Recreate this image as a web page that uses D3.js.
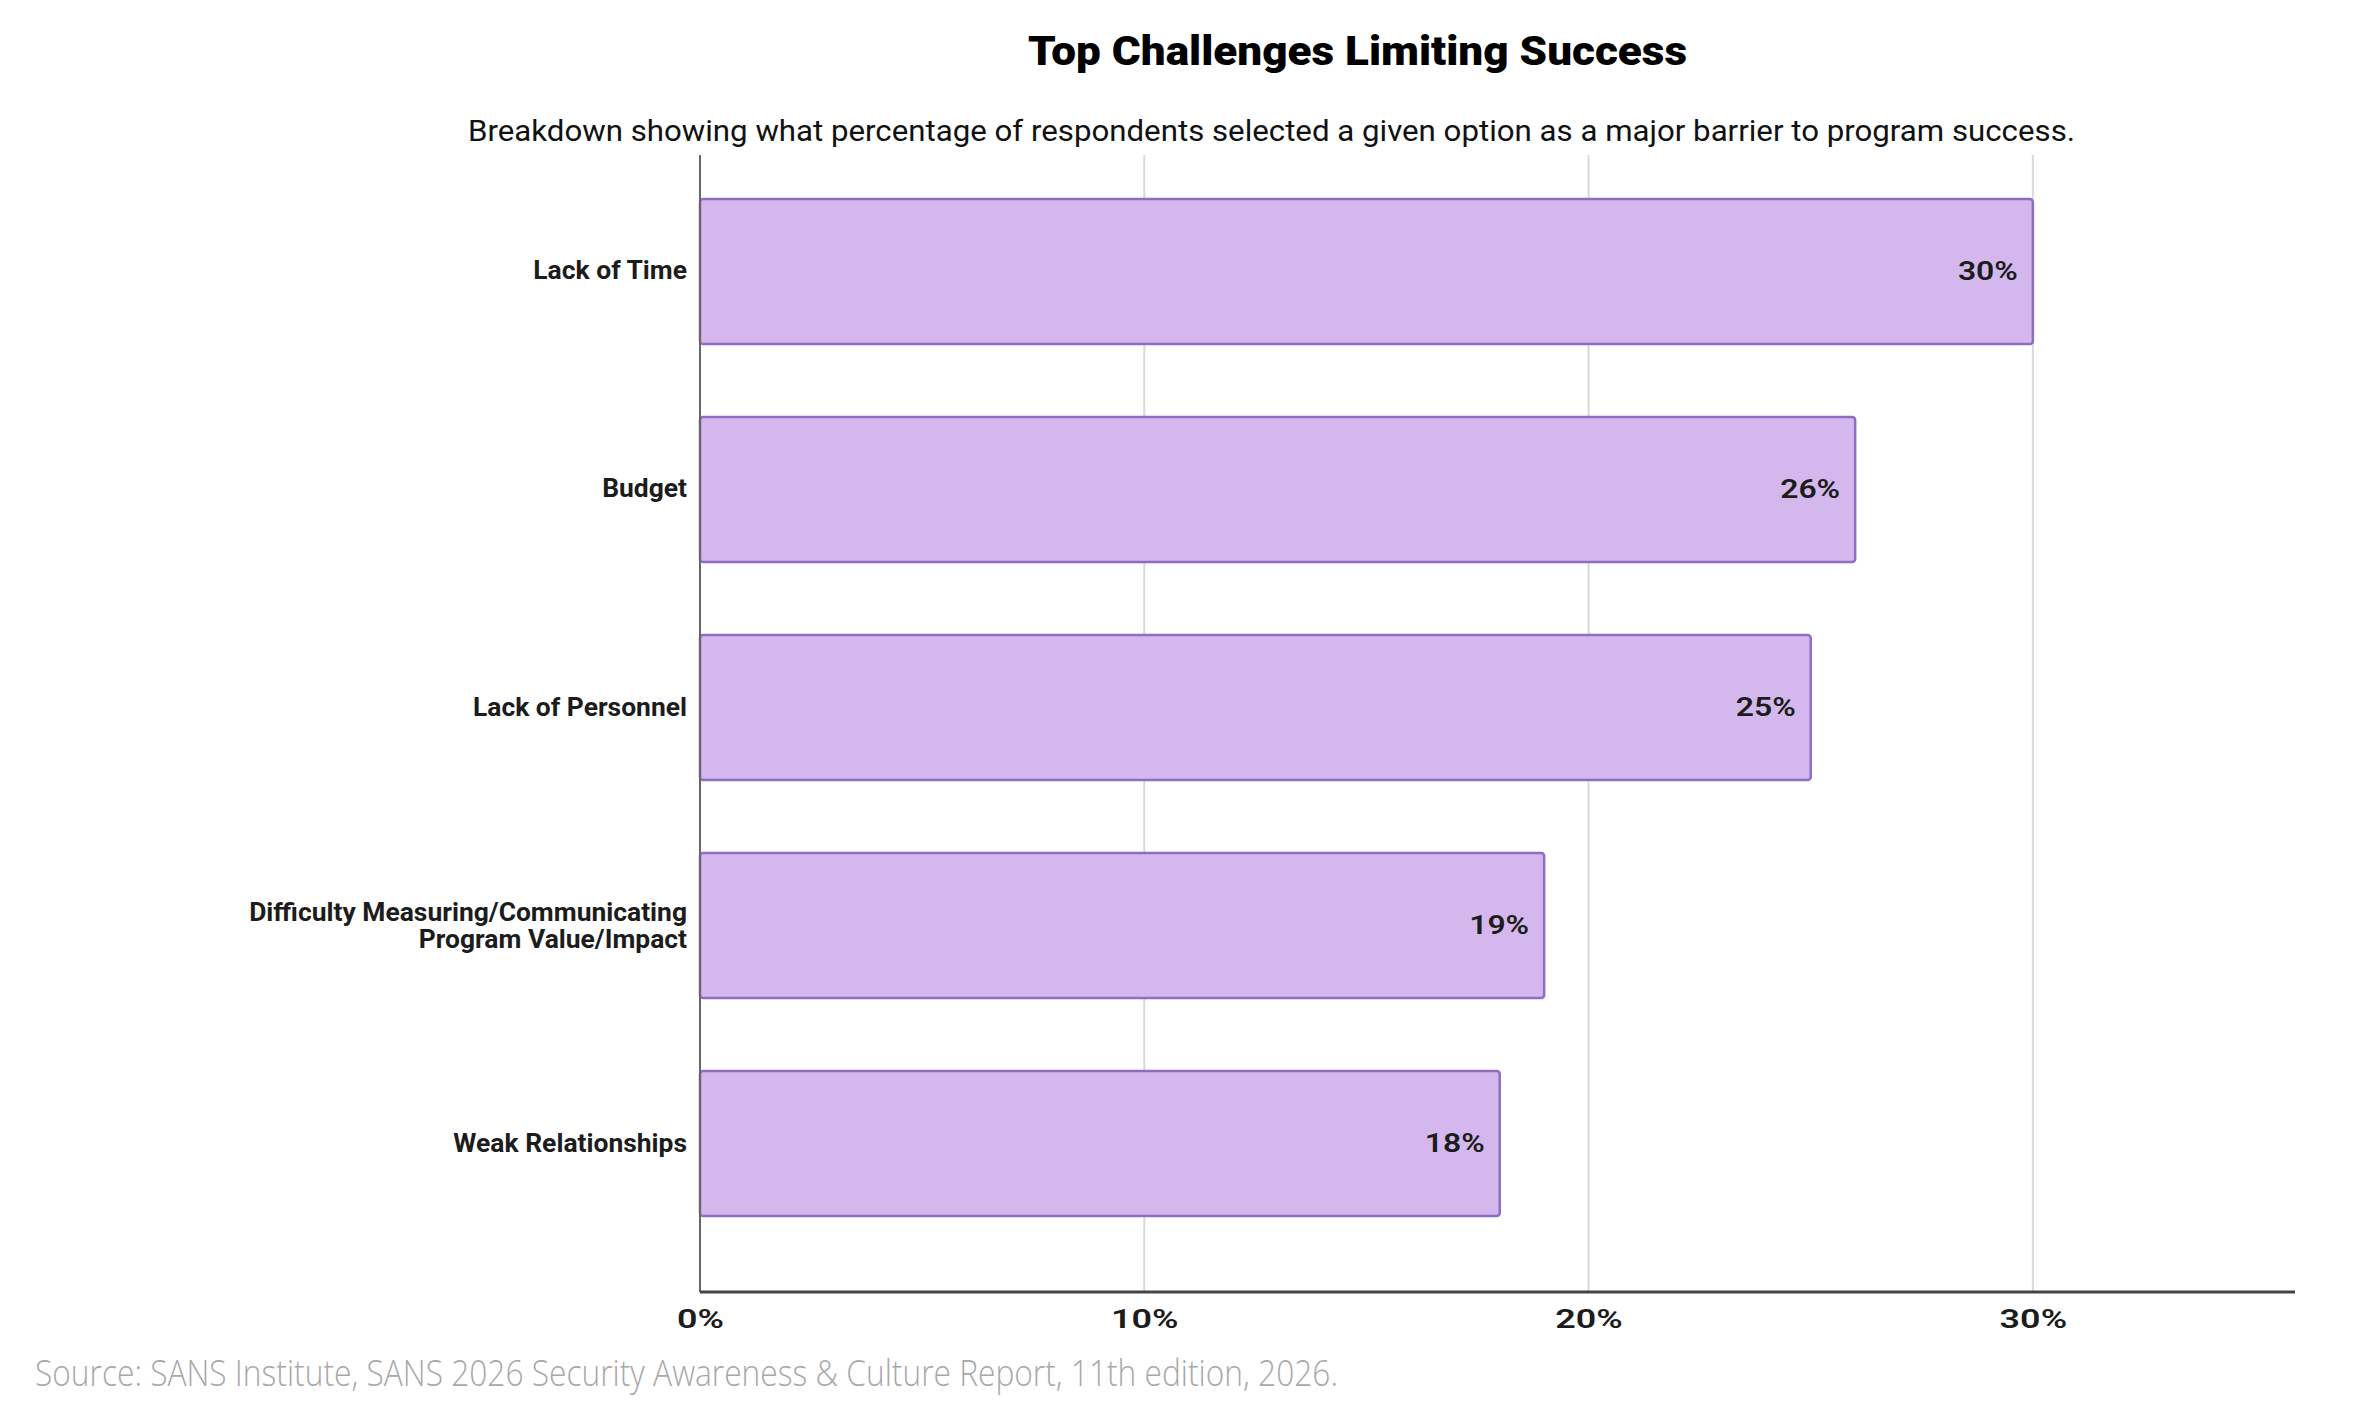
<!DOCTYPE html>
<html>
<head>
<meta charset="utf-8">
<script src="https://cdn.jsdelivr.net/npm/d3@7"></script>
<style>
  body { margin: 0; background: #fff; }
  svg { display: block; }
  .cat text, .xt text, .val { fill: #1c1c1c; font-family: Roboto, "DejaVu Sans", sans-serif; font-weight: 700; }
  .xt text, .val { font-weight: 600; }
</style>
</head>
<body>
<div id="plot"></div>
<script>
// data
var categories = [
  "Lack of Time",
  "Budget",
  "Lack of Personnel",
  "Difficulty Measuring/Communicating\nProgram Value/Impact",
  "Weak Relationships"
];
var values = [30, 26, 25, 19, 18];
var xTicks = [0, 10, 20, 30];
var xMax = 35.9;

var titleText = "Top Challenges Limiting Success";
var subtitleText = "Breakdown showing what percentage of respondents selected a given option as a major barrier to program success.";
var sourceText = "Source: SANS Institute, SANS 2026 Security Awareness & Culture Report, 11th edition, 2026.";

var W = 2366, H = 1410;
var plotLeft = 700, plotRight = 2295, plotTop = 155, plotBottom = 1292;

var svg = d3.select("#plot").append("svg")
  .attr("width", W)
  .attr("height", H);

// squash text horizontally so that it ends up at a set width
function fitWidth(sel, target) {
  sel.attr("textLength", target).attr("lengthAdjust", "spacingAndGlyphs");
}
function squeeze(sel, k) {
  sel.each(function() {
    var t = d3.select(this);
    var x = +t.attr("x") || 0;
    t.attr("transform", "scale(" + k + ",1)").attr("x", x / k);
    t.selectAll("tspan").attr("x", x / k);
  });
}

var x = d3.scaleLinear()
  .domain([0, xMax])
  .range([plotLeft, plotRight]);

var y = d3.scaleBand()
  .domain(categories)
  .range([199, 1216])
  .paddingInner(0.335)
  .paddingOuter(0);

// gridlines
svg.append("g")
  .selectAll("line")
  .data(xTicks.slice(1))
  .enter().append("line")
    .attr("x1", function(d) { return x(d); })
    .attr("x2", function(d) { return x(d); })
    .attr("y1", plotTop)
    .attr("y2", plotBottom)
    .attr("stroke", "#d9d9d9")
    .attr("stroke-width", 2);

// bars
svg.append("g")
  .selectAll("rect")
  .data(values)
  .enter().append("rect")
    .attr("x", x(0))
    .attr("y", function(d, i) { return y(categories[i]); })
    .attr("width", function(d) { return x(d) - x(0); })
    .attr("height", y.bandwidth())
    .attr("rx", 3)
    .attr("fill", "#d4b8ed")
    .attr("stroke", "#8d6ec3")
    .attr("stroke-width", 2.5);

// value labels
var vals = svg.append("g")
  .selectAll("g")
  .data(values)
  .enter().append("g")
    .attr("transform", function(d, i) {
      return "translate(" + (x(d) - 15) + "," + (y(categories[i]) + y.bandwidth() / 2) + ")";
    });
vals.append("text")
  .attr("class", "val")
  .attr("text-anchor", "end")
  .attr("dy", "0.33em")
  .style("font-size", "26px")
  .text(function(d) { return d + "%"; });

// y axis line
svg.append("line")
  .attr("x1", plotLeft).attr("x2", plotLeft)
  .attr("y1", plotTop).attr("y2", plotBottom)
  .attr("stroke", "#666")
  .attr("stroke-width", 2);

// category labels
var yAxis = d3.axisLeft(y).tickSize(0).tickPadding(13);
var gy = svg.append("g")
  .attr("class", "cat")
  .attr("transform", "translate(" + plotLeft + ",0)")
  .call(yAxis);
gy.select(".domain").remove();
gy.selectAll("text")
  .style("font-size", "25px")
  .each(function(d) {
    var lines = d.split("\n");
    if (lines.length < 2) return;
    var t = d3.select(this).text(null).attr("dy", null);
    lines.forEach(function(l, i) {
      t.append("tspan")
        .attr("x", -13)
        .attr("dy", i == 0 ? (0.35 - (lines.length - 1) * 0.54) + "em" : "1.08em")
        .text(l);
    });
  });

// x axis
var xAxis = d3.axisBottom(x)
  .tickValues(xTicks)
  .tickSize(0)
  .tickPadding(18)
  .tickFormat(function(d) { return d + "%"; });
var gx = svg.append("g")
  .attr("class", "xt")
  .attr("transform", "translate(0," + plotBottom + ")")
  .call(xAxis);
gx.select(".domain")
  .attr("d", "M" + plotLeft + ",0H" + plotRight)
  .attr("stroke", "#444")
  .attr("stroke-width", 3);
gx.selectAll("text").style("font-size", "25px");

// squeeze label fonts to the narrow look of the original
var widest = 0;
gy.selectAll("text").each(function() { widest = Math.max(widest, this.getBBox().width); });
var kCat = 438 / widest;
squeeze(gy.selectAll("text"), kCat);
var k30 = 60 / vals.select("text").node().getComputedTextLength();
squeeze(vals.selectAll("text"), k30);
var k0 = 47 / gx.select("text").node().getComputedTextLength();
squeeze(gx.selectAll("text"), k0);

// titles
svg.append("text")
  .attr("x", 1028)
  .attr("y", 65)
  .style("font-family", "Roboto, 'DejaVu Sans', sans-serif")
  .style("font-weight", 900)
  .style("font-size", "40px")
  .style("fill", "#000")
  .text(titleText)
  .call(fitWidth, 659);

svg.append("text")
  .attr("x", 468)
  .attr("y", 141)
  .style("font-family", "Roboto, 'DejaVu Sans', sans-serif")
  .style("font-size", "30px")
  .style("fill", "#111")
  .text(subtitleText)
  .call(fitWidth, 1607);

svg.append("text")
  .attr("x", 35)
  .attr("y", 1386)
  .style("font-family", "'Open Sans', sans-serif")
  .style("font-weight", 300)
  .style("font-size", "36px")
  .style("fill", "#a8a8a8")
  .text(sourceText)
  .call(fitWidth, 1303);
</script>
</body>
</html>
